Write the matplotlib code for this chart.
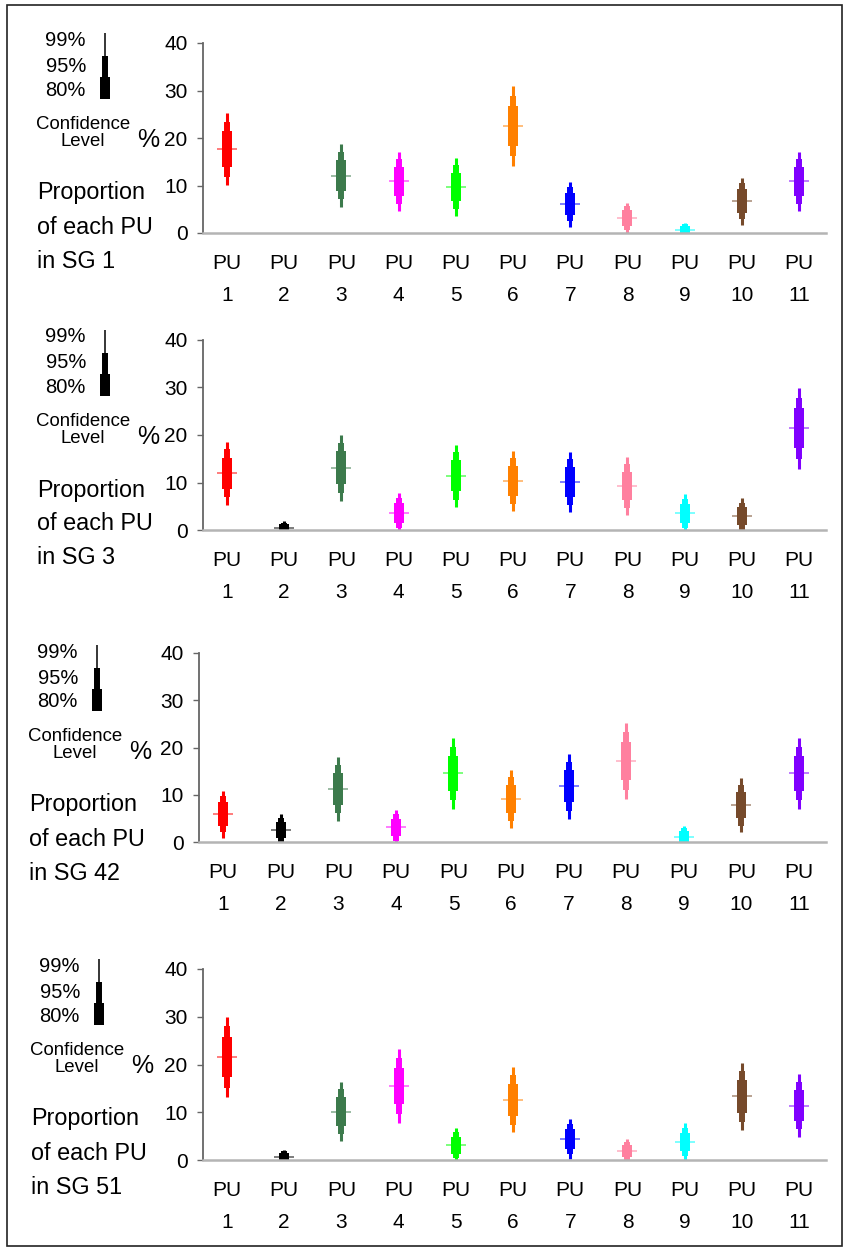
import numpy as np
import matplotlib.pyplot as plt
from matplotlib.lines import Line2D
from matplotlib.patches import Rectangle

plt.rcParams['font.family'] = ['Liberation Sans', 'DejaVu Sans']

# proportion of each PU in each SG (%), with its standard error
pu_labels = [f"PU\n{i}" for i in range(1, 12)]
pu_colors = ['#ff0000', '#000000', '#3c7a4c', '#ff00ff', '#00ff00', '#ff8000',
             '#0000ff', '#ff809f', '#00ffff', '#764a2b', '#8000ff']

sg_names = ["SG 1", "SG 3", "SG 42", "SG 51"]

sg1_mean = [17.6, np.nan, 12.1, 10.9, 9.7, 22.5, 6.1, 3.1, 0.6, 6.7, 10.9]
sg1_se = [2.95, np.nan, 2.56, 2.4, 2.35, 3.24, 1.84, 1.28, 0.62, 1.92, 2.41]

sg3_mean = [11.9, 0.5, 13.1, 3.6, 11.4, 10.3, 10.1, 9.3, 3.5, 2.9, 21.4]
sg3_se = [2.58, 0.55, 2.7, 1.63, 2.56, 2.45, 2.45, 2.35, 1.55, 1.45, 3.3]

sg42_mean = [5.9, 2.5, 11.2, 3.1, 14.5, 9.1, 11.8, 17.1, 1.1, 7.8, 14.5]
sg42_se = [1.94, 1.32, 2.6, 1.44, 2.9, 2.37, 2.66, 3.1, 0.9, 2.2, 2.9]

sg51_mean = [21.6, 0.6, 10.1, 15.5, 3.1, 12.6, 4.4, 1.9, 3.8, 13.3, 11.4]
sg51_se = [3.28, 0.62, 2.39, 2.97, 1.36, 2.64, 1.63, 1.0, 1.5, 2.72, 2.54]

means = [sg1_mean, sg3_mean, sg42_mean, sg51_mean]
ses = [sg1_se, sg3_se, sg42_se, sg51_se]

# z values for the 99 / 95 / 80 % confidence levels, drawn thin -> thick
levels = [(2.5758, 2.2), (1.96, 4.3), (1.2816, 7.2)]

W, H = 849, 1251
fig = plt.figure(figsize=(W / 100, H / 100), dpi=100)


def fx(x):
    return x / W


def fy(y):
    return 1 - y / H


# panel layout in pixels: axis left, y of 40, y of 0, left text x
layout = [(203, 43, 233, 37), (203, 340, 530, 37), (199, 653, 842, 29), (203, 969, 1160, 31)]
ax_right = 826

x = np.arange(1, 12)
for k in range(4):
    left, top, bottom, tx = layout[k]
    ax = fig.add_axes([fx(left), fy(bottom), fx(ax_right) - fx(left), (bottom - top) / H])
    m = np.array(means[k], dtype=float)
    s = np.array(ses[k], dtype=float)
    for z, lw in levels:
        lo = np.clip(m - z * s, 0, None)
        hi = m + z * s
        ax.vlines(x, lo, hi, colors=pu_colors, linewidth=lw, capstyle='butt', zorder=2)
    # mean marker
    for i in range(11):
        if np.isnan(m[i]):
            continue
        ax.plot(x[i], m[i], marker='_', markersize=14.5, markeredgewidth=1.1,
                color=pu_colors[i], alpha=0.65, zorder=3)
    ax.set_xlim(0.58, 11.47)
    ax.set_ylim(0, 40)
    ax.set_yticks([0, 10, 20, 30, 40])
    ax.set_xticks(x)
    ax.set_xticklabels(pu_labels, fontsize=15, linespacing=1.85)
    ax.tick_params(axis='x', length=0, pad=15)
    ax.tick_params(axis='y', length=4, width=1, color='#666666', pad=7, labelsize=15)
    for sp in ['top', 'right']:
        ax.spines[sp].set_visible(False)
    ax.spines['left'].set_color('#666666')
    ax.spines['left'].set_linewidth(1.3)
    ax.spines['bottom'].set_color('#b4b4b4')
    ax.spines['bottom'].set_linewidth(1.8)
    ax.set_facecolor('none')

    # confidence level key and axis caption
    dy = top - 43 if k != 2 else top - 43 + 2
    dx = tx - 37
    for lab, yy in zip(["99%", "95%", "80%"], [40, 66, 90]):
        fig.text(fx(86 + dx), fy(yy + dy), lab, ha='right', va='center', fontsize=14.5)
    kx = fx(105 + dx)
    for (y1, y2, lw) in [(33, 56, 1.1), (56, 77, 4.3), (77, 99, 7.2)]:
        fig.add_artist(Line2D([kx, kx], [fy(y1 + dy), fy(y2 + dy)], color='black', lw=lw,
                              solid_capstyle='butt', transform=fig.transFigure))
    fig.text(fx(83 + dx), fy(133 + dy), "Confidence\nLevel", ha='center', va='center',
             fontsize=13.4, linespacing=0.95)
    fig.text(fx(148 + dx), fy(140 + dy), "%", ha='center', va='center', fontsize=18)
    for line, yy in zip(["Proportion", "of each PU", "in " + sg_names[k]], [193, 227, 261]):
        fig.text(fx(tx), fy(yy + dy), line, ha='left', va='center', fontsize=16.8)

# outer frame
fig.add_artist(Rectangle((fx(7), fy(1246)), fx(842) - fx(7), (1246 - 5) / H,
                         fill=False, edgecolor='#222222', linewidth=1.2,
                         transform=fig.transFigure))

fig.savefig("out.png", dpi=100)
